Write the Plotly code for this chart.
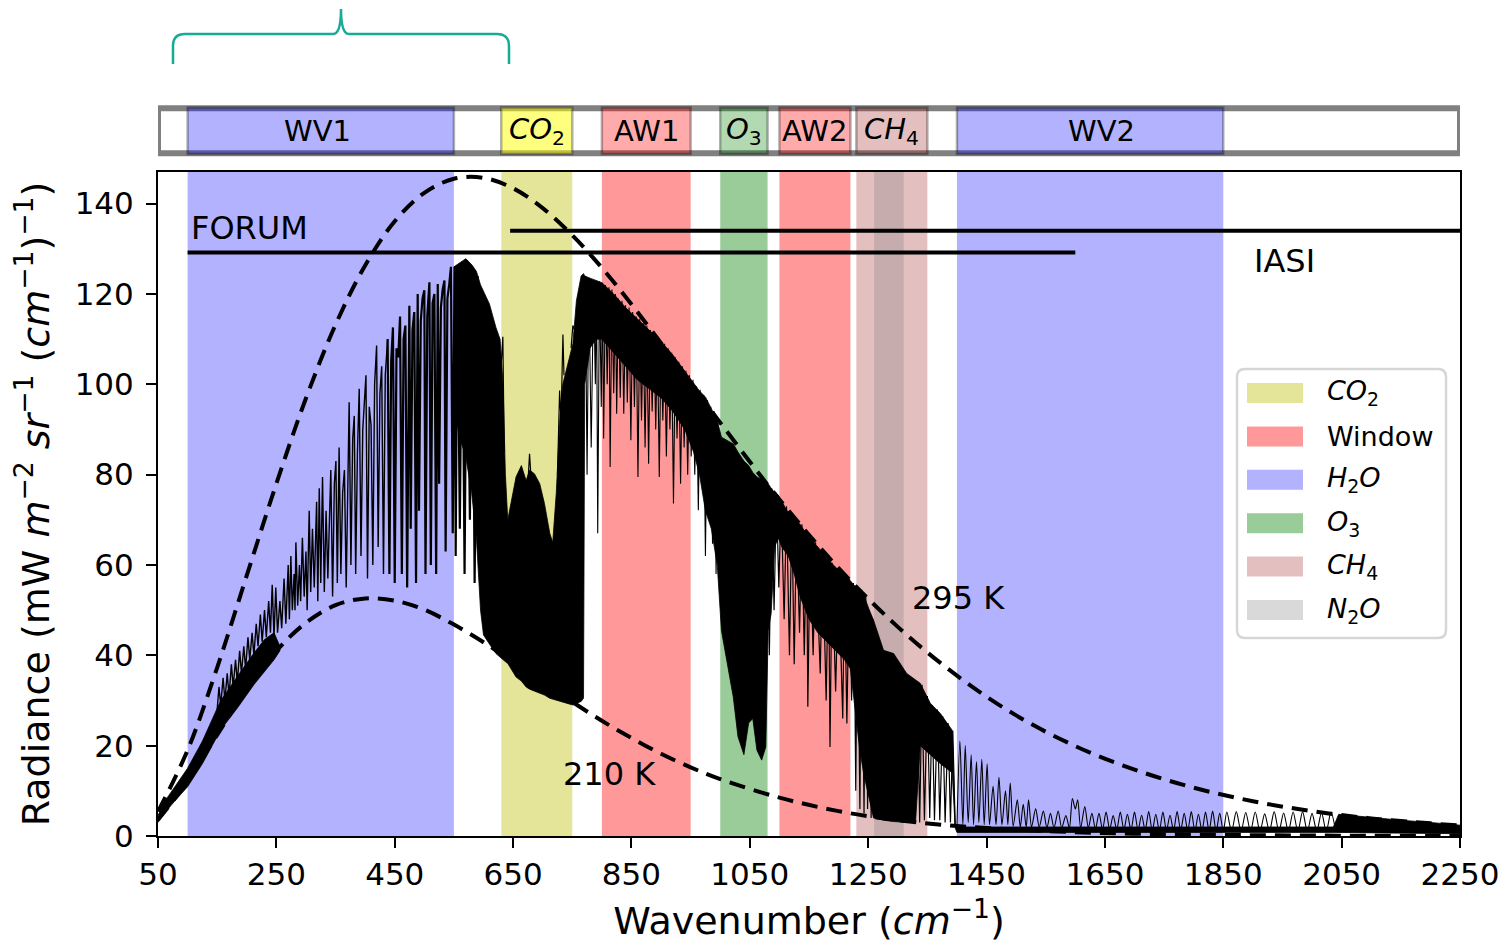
import plotly.graph_objects as go

# ---------------- data ----------------
# spectral bands (cm^-1)
band_labels = ["WV1", "<i>CO</i><sub>2</sub>", "AW1", "<i>O</i><sub>3</sub>", "AW2", "<i>CH</i><sub>4</sub>", "WV2"]
band_gas = ["H2O", "CO2", "Window", "O3", "Window", "CH4", "H2O"]
band_lo = [100, 630, 800, 1000, 1100, 1230, 1400]
band_hi = [550, 750, 950, 1080, 1220, 1350, 1850]
band_label_x = [320, 690, 875, 1040, 1160, 1290, 1645]
n2o_lo = [1260]
n2o_hi = [1310]

legend_gases = ["CO2", "Window", "H2O", "O3", "CH4", "N2O"]
legend_names = ["<i>CO</i><sub>2</sub>", "Window", "<i>H</i><sub>2</sub><i>O</i>",
                "<i>O</i><sub>3</sub>", "<i>CH</i><sub>4</sub>", "<i>N</i><sub>2</sub><i>O</i>"]

# instrument coverage
forum_range = [100, 1600]
forum_level = 129.2
iasi_range = [645, 2760]
iasi_level = 134.0

# blackbody curves
bb_wn = [50, 100, 150, 200, 250, 300, 350, 400, 450, 500, 550, 600, 650, 700, 750, 800,
         850, 900, 950, 1000, 1100, 1200, 1300, 1400, 1500, 1600, 1700, 1800, 1900, 2000,
         2100, 2200, 2250]
bb_295 = [5.4, 19.0, 37.3, 57.7, 78.0, 96.9, 113.2, 126.3, 136.1, 142.4, 145.5, 145.7,
          143.4, 139.0, 133.0, 125.8, 117.7, 109.1, 100.3, 91.5, 74.5, 59.3, 46.3, 35.5,
          26.7, 19.9, 14.7, 10.7, 7.7, 5.5, 3.9, 2.8, 2.3]
bb_210 = [3.6, 12.1, 22.4, 32.5, 41.0, 47.2, 51.1, 52.6, 52.1, 50.1, 46.8, 42.9, 38.5,
          34.0, 29.7, 25.5, 21.7, 18.2, 15.2, 12.6, 8.5, 5.5, 3.5, 2.2, 1.4, 0.85, 0.51,
          0.31, 0.18, 0.11, 0.06, 0.04, 0.03]

# spectrum: dense far-IR band (lower / upper envelope)
fir_core_wn = [50, 60, 80, 100, 125, 156, 185, 212, 230, 246, 256]
fir_core_lo = [3.0, 4.9, 8.0, 10.9, 16.0, 23.5, 28.5, 33.5, 36.5, 39.0, 41.0]
fir_core_hi = [4.5, 7.4, 11.2, 15.0, 21.0, 30.0, 35.5, 40.5, 43.5, 45.0, 42.0]

# spectrum: dense band from 550 cm-1 onward (lower / upper envelope)
core_wn = [550, 560, 570, 580, 588, 595, 600, 610, 621, 628, 633, 637, 641, 647, 655, 664,
           672, 678, 686, 695, 703, 712, 717, 723, 729, 734, 743, 751, 757, 765, 769, 771,
           780, 790, 800, 820, 840, 860, 880, 900, 920, 940, 955, 965, 975, 985, 995, 1002,
           1012, 1022, 1030, 1040, 1048, 1055, 1062, 1070, 1077, 1081, 1086, 1092, 1098,
           1104, 1115, 1125, 1135, 1150, 1165, 1180, 1195, 1210, 1220, 1226, 1235, 1242,
           1252, 1259, 1276, 1293, 1315, 1330, 1338, 1355, 1372, 1392, 1397, 1400, 1500,
           1600, 1700, 1800, 1900, 2000, 2036, 2045, 2100, 2150, 2200, 2250]
core_lo = [95, 88, 84, 76, 66, 50, 44.5, 42.5, 40.4, 39.5, 39, 38.6, 38.2, 37, 35.2, 34.3,
           33, 32.5, 32, 31.6, 31.2, 30.5, 30.3, 30, 29.8, 29.6, 29.3, 29, 29.3, 29.8, 30.5,
           100, 108, 110, 110, 107, 104, 101, 99, 97, 94, 90, 85, 80, 72, 68, 60, 45.5,
           38, 30.8, 22, 18, 25, 26, 19, 16.8, 19.7, 45.5, 49.2, 64, 66,
           64, 62, 58, 53, 48, 45, 43, 41, 39, 37, 30, 20, 14,
           8, 4, 3.5, 3.2, 3.0, 3.0, 20, 18, 16, 14, 1.8, 0.8, 0.8,
           0.8, 0.8, 0.8, 0.8, 0.8, 0.8, 0.8, 0.8, 0.7, 0.6, 0.5]
core_hi = [126, 127, 127.8, 126.5, 125, 122, 120.5, 117.8, 112.6, 110, 100, 80, 70, 74, 79.5, 82,
           78.7, 81, 80.2, 78, 73.6, 67, 65, 76, 92, 100, 105, 109, 118.5, 124, 124.5, 124,
           123.5, 123, 122.5, 120, 117, 114.5, 112, 109.5, 106.5, 103, 100.5, 98.5, 97.2, 94.5, 92, 88.3,
           87.5, 86.8, 85, 83, 82, 80.5, 79.5, 79, 78.2, 78, 77, 76, 75.5,
           74, 71.5, 70, 69, 66, 64, 61.5, 59.5, 57.5, 56.5, 55.5, 54.5, 53.5,
           50, 47.8, 41.1, 40.4, 36, 34.5, 33.8, 29.4, 27.1, 23.4, 2.2, 2.0, 2.0,
           2.0, 2.0, 2.0, 2.0, 2.0, 2.0, 4.8, 4.1, 3.5, 3.0, 2.4]

# individual spectral lines (peaks / troughs), 150-438 cm-1
fir_line_wn = [150, 153, 156, 160, 163, 167, 170, 174, 177, 181, 184, 188, 191, 195, 198, 202,
               205, 209, 212, 216, 219, 223, 226, 230, 233, 237, 240, 243, 246, 249, 252, 256,
               259, 263, 266, 270, 272, 274.5, 277, 280, 281.5, 283, 286, 289, 291, 294, 297,
               300, 302, 305.5, 308, 311, 314, 318, 320, 322.5, 325, 328, 331, 334, 337, 342,
               345, 348, 350.6, 353, 356, 359, 362, 365, 368, 373, 376, 379, 381.6, 384, 387,
               390, 393, 396, 401.4, 404, 407, 410, 413, 416, 419.4, 422, 425, 428, 431, 434,
               438]
fir_line_rad = [28, 33, 29, 35, 30, 36, 31, 38, 33, 39, 34, 41, 36, 42, 37, 44,
                39, 45, 40, 47, 42, 49, 43, 50, 44, 52, 45, 55.6, 44, 55, 45, 52,
                46, 57, 47, 60, 48, 62, 50, 58, 50, 65, 51, 60, 52, 66, 53,
                63, 50, 72, 54, 68, 55, 74, 52, 77, 56, 79.5, 54, 72, 57, 81,
                53, 78, 83, 56, 86, 58, 76, 81, 55, 96, 60, 88, 93, 58, 85,
                99, 62, 90, 102, 57, 95, 91, 60, 100, 108.6, 64, 98, 104, 58, 102,
                110]

# denser line region 438-590 cm-1
fir2_line_wn = [438, 441, 444, 447, 450, 453, 456, 459, 462, 465, 468, 471, 474.7, 477, 480,
                483, 486, 488.8, 491, 494, 497, 500, 502, 505, 508.6, 511, 514, 517, 520,
                522.7, 525, 528, 531, 534, 536, 539, 542, 545, 548, 551, 553, 556, 560, 564,
                568, 572, 577, 581, 585, 590]
fir2_line_rad = [110, 58, 105, 112.6, 56, 108, 106, 115, 58, 110, 113, 55, 117.4, 68, 112,
                 116, 56, 120, 72, 114, 119, 120.8, 58, 115, 122.6, 60, 118, 120, 58,
                 122.2, 78, 117, 121, 123, 63, 119, 122, 126, 67, 126, 62, 125, 68, 127,
                 58, 127.5, 70, 126, 56, 124]

co2_line_wn = [628, 632.7, 635, None, 675, 677.8, 681, None, 725, 728.6, 731, 732.5, 734.2,
               736, None, 748, 751, 754]
co2_line_rad = [100, 110.5, 85, None, 78, 84.6, 78, None, 80, 98.6, 92, 100, 111,
                102, None, 108, 113, 112]

win_line_wn = [772, 775, 778, 782, 786, 789, 791, 793, 796, 799, 801, 803, 806, 809, 812, 814,
               817, 820, 823, 825, 828, 831, 834, 837, 840, 843, 846, 849, 852, 855, 858, 861,
               864, 867, 870, 873, 876, 879, 882, 885, 888, 891, 894, 897, 900, 903, 906, 909,
               912, 915, 918, 921, 924, 927, 930, 933, 936, 939, 942, 945, 948, 951, 954, 957,
               960, 963, 966, 969, 972, 975, 978, 981, 984, 987, 990, 993, 996]
win_line_rad = [124, 80, 123.5, 86, 123, 100, 123, 67, 122.8, 95, 122.5, 88, 122, 100, 121.5, 81.7,
                121, 98, 120, 93.5, 119, 97, 118.5, 93.5, 117.5, 96, 117, 87.6, 116, 95, 115, 79.5,
                114.5, 92, 113.5, 86, 113, 82.4, 112, 94, 111.5, 90, 110.5, 79.5, 109.5, 92, 109, 84,
                108, 90, 107, 73.6, 106, 88, 105, 78, 104, 86, 103, 80, 102, 84, 101, 80,
                99.5, 72.1, 98.8, 78, 97.5, 62, 96.5, 72, 95, 64.7, 94, 58, 91]

aw2_line_wn = [1079, 1083, 1087, 1091, 1095, 1099, 1103, 1108, 1112, 1117, 1121, 1125, 1129,
               1134, 1138, 1142, 1146, 1148, 1152, 1157, 1161, 1169, 1173, 1179, 1183, 1185.5,
               1189, 1195, 1200, 1207, 1210, 1214, 1218, 1222, 1225]
aw2_line_rad = [78, 40, 77, 50, 76, 55, 74.5, 48, 73, 40, 71.5, 38, 70,
                45, 69, 40, 67.5, 28.6, 66, 40, 65, 36, 63, 30, 61.5, 19.7,
                60.5, 32, 59, 26, 57.5, 24.9, 57, 30, 56]

ch4_line_wn = [1226, 1229, 1232, 1236, 1239, 1243, 1246, 1249, 1252, 1255, 1258]
ch4_line_rad = [55.5, 10, 55, 6, 54.5, 5, 53, 6, 50, 4, 48]

n2o_line_wn = [1333, 1337, 1341, 1345, 1350, 1354, 1358, 1362, 1367, 1371, 1376, 1380, 1385,
               1389, 1393, 1397]
n2o_line_rad = [34.2, 3, 33.5, 3.5, 31, 4, 29, 3.5, 28, 3.5, 26.5, 3, 25, 3, 23.3, 2.5]

mir_line_wn = [1400, 1405, 1410, 1414, 1419, 1424, 1428, 1433, 1437, 1442, 1446, 1451, 1455,
               1461, 1466, 1471, 1476, 1482, 1486, 1490, 1495, 1502, 1507, 1512, 1517, 1521,
               1526, 1533, 1539, 1546, 1552, 1558, 1564, 1571, 1577, 1584, 1590, 1595, 1600,
               1604, 1609, 1616, 1622, 1628, 1634, 1640, 1646, 1652, 1658, 1664, 1670, 1676,
               1682, 1688, 1694, 1700, 1706, 1712, 1718, 1724, 1730, 1736, 1742, 1748, 1754,
               1760, 1766, 1772, 1778, 1784, 1790, 1796, 1802, 1808, 1814, 1820, 1826, 1832,
               1838, 1844, 1850, 1856, 1864, 1872, 1880, 1888, 1896, 1904, 1912, 1920, 1928,
               1936, 1944, 1952, 1960, 1968, 1976, 1984, 1992, 2000, 2008, 2016, 2024, 2032,
               2040]
mir_line_rad = [2, 21, 2.5, 20, 3, 18, 2.5, 16.5, 3, 17, 2.5, 16, 2.5,
                11, 2.5, 13, 2.5, 10, 2.5, 11.7, 2.2, 8, 2, 7, 2, 8,
                2, 6, 2, 5.5, 1.8, 5, 1.8, 5.5, 1.8, 4.5, 1.8, 8.3, 6,
                8, 1.8, 6.5, 1.8, 5, 1.6, 5, 1.5, 5.3, 1.5, 4.5, 1.4, 5.3,
                1.4, 4.8, 1.3, 5.3, 1.3, 4.6, 1.3, 5.4, 1.2, 4.8, 1.2, 5.3, 1.2,
                4.6, 1.2, 5.4, 1.2, 5.0, 1.2, 5.4, 1.1, 4.8, 1.1, 5.3, 1.1, 5.5,
                1.1, 5.0, 1.1, 5.3, 1.0, 5.4, 1.0, 5.2, 1.0, 5.3, 1.0, 4.9, 1.0,
                5.4, 1.0, 5.1, 1.0, 5.3, 1.0, 5.4, 1.0, 5.0, 1.0, 5.2, 1.0, 5.3,
                1.0]

x_ticks = [50, 250, 450, 650, 850, 1050, 1250, 1450, 1650, 1850, 2050, 2250]
y_ticks = [0, 20, 40, 60, 80, 100, 120, 140]

# ---------------- styles / layout helpers ----------------
FONT = "DejaVu Sans"
plot_fill = {"CO2": "rgba(191,191,0,0.4)", "Window": "rgba(255,0,0,0.4)",
             "H2O": "rgba(0,0,255,0.3)", "O3": "rgba(0,128,0,0.4)",
             "CH4": "rgba(165,42,42,0.3)", "N2O": "rgba(128,128,128,0.3)"}
bar_fill = {"CO2": "rgba(255,255,0,0.5)", "Window": "rgba(255,0,0,0.33)",
            "H2O": "rgba(0,0,255,0.3)", "O3": "rgba(0,128,0,0.3)",
            "CH4": "rgba(165,42,42,0.3)"}

W, H = 1501, 941          # page shows the figure offset by the 8 px body margin
ML, MR, MT, MB = 150, 49, 0, 113
PLOT_H = H - MT - MB


def fx(page_px):
    """page pixel -> x paper fraction"""
    return (page_px - 8 - ML) / (W - ML - MR)


def fy(page_py):
    """page pixel -> y paper fraction"""
    return (MT + PLOT_H - (page_py - 8)) / PLOT_H


Y_DOM_TOP = fy(172)
BAR_Y0, BAR_Y1 = fy(153.3), fy(108.3)
BAND_Y0, BAND_Y1 = fy(154), fy(107.5)

fig = go.Figure()

# spectrum
fig.add_trace(go.Scatter(x=fir_core_wn + fir_core_wn[::-1], y=fir_core_hi + fir_core_lo[::-1],
                         mode="lines", fill="toself", fillcolor="black",
                         line=dict(color="black", width=0.8), showlegend=False, hoverinfo="skip"))
fig.add_trace(go.Scatter(x=core_wn + core_wn[::-1], y=core_hi + core_lo[::-1],
                         mode="lines", fill="toself", fillcolor="black",
                         line=dict(color="black", width=0.8), showlegend=False, hoverinfo="skip"))
for xs, ys, lw in [(fir_line_wn, fir_line_rad, 1.4), (fir2_line_wn, fir2_line_rad, 2.2),
                   (co2_line_wn, co2_line_rad, 1.2),
                   (win_line_wn, win_line_rad, 1.1), (aw2_line_wn, aw2_line_rad, 1.2),
                   (ch4_line_wn, ch4_line_rad, 1.2), (n2o_line_wn, n2o_line_rad, 1.2)]:
    fig.add_trace(go.Scatter(x=xs, y=ys, mode="lines", connectgaps=False,
                             line=dict(color="black", width=lw),
                             showlegend=False, hoverinfo="skip"))
fig.add_trace(go.Scatter(x=mir_line_wn, y=mir_line_rad, mode="lines",
                         line=dict(color="black", width=1.1, shape="spline", smoothing=0.8),
                         showlegend=False, hoverinfo="skip"))

# blackbody curves
for ys in (bb_295, bb_210):
    fig.add_trace(go.Scatter(x=bb_wn, y=ys, mode="lines",
                             line=dict(color="black", width=4, dash="16px,9px", shape="spline"),
                             showlegend=False, hoverinfo="skip"))

# instrument ranges
fig.add_trace(go.Scatter(x=forum_range, y=[forum_level] * 2, mode="lines",
                         line=dict(color="black", width=4), showlegend=False, hoverinfo="skip"))
fig.add_trace(go.Scatter(x=iasi_range, y=[iasi_level] * 2, mode="lines",
                         line=dict(color="black", width=4), showlegend=False, hoverinfo="skip"))

shapes = []
# bands in the main panel
for lo, hi, g in zip(band_lo, band_hi, band_gas):
    shapes.append(dict(type="rect", xref="x", yref="y domain", x0=lo, x1=hi, y0=0, y1=1,
                       fillcolor=plot_fill[g], line=dict(width=0), layer="below"))
for lo, hi in zip(n2o_lo, n2o_hi):
    shapes.append(dict(type="rect", xref="x", yref="y domain", x0=lo, x1=hi, y0=0, y1=1,
                       fillcolor=plot_fill["N2O"], line=dict(width=0), layer="below"))

# top band bar
shapes.append(dict(type="rect", xref="x", yref="paper", x0=x_ticks[0], x1=x_ticks[-1],
                   y0=BAR_Y0, y1=BAR_Y1, fillcolor="white",
                   line=dict(color="rgb(128,128,128)", width=6)))
for lo, hi, g in zip(band_lo, band_hi, band_gas):
    shapes.append(dict(type="rect", xref="x", yref="paper", x0=lo, x1=hi,
                       y0=BAND_Y0, y1=BAND_Y1, fillcolor=bar_fill[g],
                       line=dict(color="rgba(0,0,0,0.3)", width=2.5)))

# curly brace above the far-infrared part (page pixel geometry)
pts = {"a": (173, 64), "b": (173, 46), "c": (173, 34), "d": (185, 34), "e": (333, 34),
       "f": (341, 34), "g": (341, 9), "h": (349, 34), "i": (497, 34), "j": (509, 34),
       "k": (509, 46), "l": (509, 64)}
P = {k: f"{fx(v[0]):.5f},{fy(v[1]):.5f}" for k, v in pts.items()}
brace = (f"M {P['a']} L {P['b']} Q {P['c']} {P['d']} L {P['e']} Q {P['f']} {P['g']} "
         f"Q {P['f']} {P['h']} L {P['i']} Q {P['j']} {P['k']} L {P['l']}")
shapes.append(dict(type="path", xref="paper", yref="paper", path=brace,
                   line=dict(color="rgb(23,170,155)", width=2.5)))

# legend box (matplotlib style, rounded)
lx0, lx1, ly0, ly1, rr = 1237, 1446, 369, 638, 8
legend_path = (f"M {fx(lx0 + rr)},{fy(ly0)} L {fx(lx1 - rr)},{fy(ly0)} "
               f"Q {fx(lx1)},{fy(ly0)} {fx(lx1)},{fy(ly0 + rr)} L {fx(lx1)},{fy(ly1 - rr)} "
               f"Q {fx(lx1)},{fy(ly1)} {fx(lx1 - rr)},{fy(ly1)} L {fx(lx0 + rr)},{fy(ly1)} "
               f"Q {fx(lx0)},{fy(ly1)} {fx(lx0)},{fy(ly1 - rr)} L {fx(lx0)},{fy(ly0 + rr)} "
               f"Q {fx(lx0)},{fy(ly0)} {fx(lx0 + rr)},{fy(ly0)} Z")
shapes.append(dict(type="path", xref="paper", yref="paper", path=legend_path,
                   fillcolor="rgba(255,255,255,0.85)", line=dict(color="#d6d6d6", width=2.5)))

annotations = []
entry_y0, entry_dy = 393, 43.4
for i, (g, nm) in enumerate(zip(legend_gases, legend_names)):
    cy = entry_y0 + i * entry_dy
    shapes.append(dict(type="rect", xref="paper", yref="paper",
                       x0=fx(1247), x1=fx(1303), y0=fy(cy + 10), y1=fy(cy - 10),
                       fillcolor=plot_fill[g], line=dict(width=0)))
    annotations.append(dict(x=fx(1325), y=fy(cy), xref="paper", yref="paper", text=nm,
                            showarrow=False, xanchor="left", yanchor="middle",
                            font=dict(family=FONT, size=27, color="black")))

for lab, xc in zip(band_labels, band_label_x):
    annotations.append(dict(x=xc, y=(BAR_Y0 + BAR_Y1) / 2, xref="x", yref="paper", text=lab,
                            showarrow=False, font=dict(family=FONT, size=29, color="black"),
                            xanchor="center", yanchor="middle"))
annotations += [
    dict(x=forum_range[0] + 2, y=134.7, xref="x", yref="y", text="FORUM", showarrow=False,
         xanchor="left", yanchor="middle", font=dict(family=FONT, size=32, color="black")),
    dict(x=1954, y=127.4, xref="x", yref="y", text="IASI", showarrow=False,
         xanchor="center", yanchor="middle", font=dict(family=FONT, size=32, color="black")),
    dict(x=1320, y=52.6, xref="x", yref="y", text="295 K", showarrow=False,
         xanchor="left", yanchor="middle", font=dict(family=FONT, size=32, color="black")),
    dict(x=731, y=13.7, xref="x", yref="y", text="210 K", showarrow=False,
         xanchor="left", yanchor="middle", font=dict(family=FONT, size=32, color="black")),
]

axis_common = dict(showline=True, mirror=True, linecolor="black", linewidth=2,
                   ticks="outside", ticklen=10, tickwidth=2, tickcolor="black",
                   showgrid=False, zeroline=False, automargin=False,
                   tickfont=dict(family=FONT, size=31, color="black"))

fig.update_layout(
    width=W, height=H,
    margin=dict(l=ML, r=MR, t=MT, b=MB),
    paper_bgcolor="white", plot_bgcolor="white",
    font=dict(family=FONT, color="black"),
    showlegend=False,
    xaxis=dict(range=[x_ticks[0], x_ticks[-1]], tickvals=x_ticks,
               title=dict(text="Wavenumber (<i>cm</i><sup>−1</sup>)",
                          font=dict(family=FONT, size=38), standoff=16),
               **axis_common),
    yaxis=dict(range=[0, 147], tickvals=y_ticks, domain=[0, Y_DOM_TOP],
               ticklabelstandoff=6,
               title=dict(text="Radiance (mW <i>m</i><sup>−2</sup> <i>sr</i><sup>−1</sup> "
                               "(<i>cm</i><sup>−1</sup>)<sup>−1</sup>)",
                          font=dict(family=FONT, size=38), standoff=14),
               **axis_common),
    shapes=shapes, annotations=annotations,
)

fig.write_html("out.html")
